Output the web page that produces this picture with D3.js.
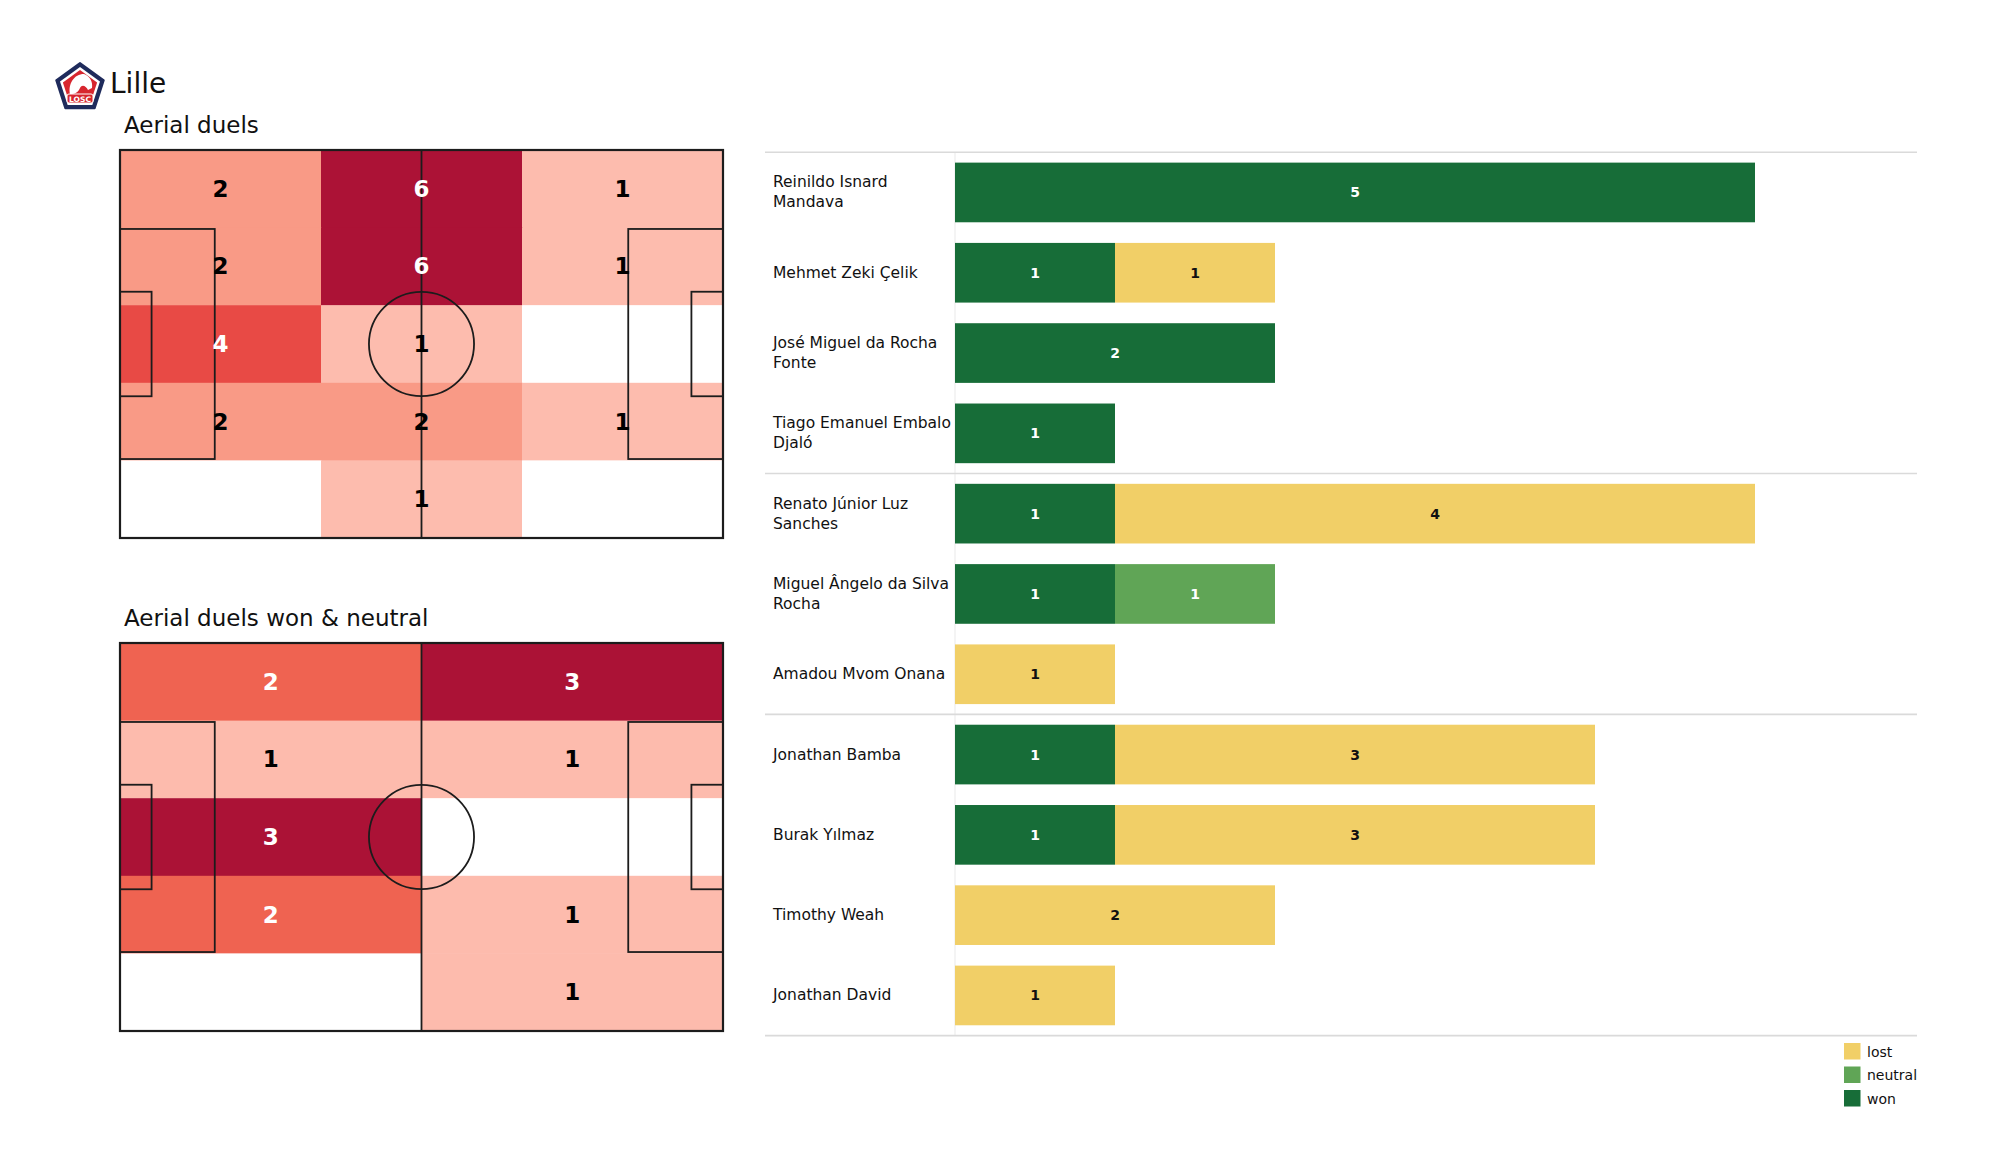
<!DOCTYPE html>
<html>
<head>
<meta charset="utf-8">
<script src="https://cdn.jsdelivr.net/npm/d3@7"></script>
<style>
  html, body { margin: 0; padding: 0; background: #ffffff; }
  svg { display: block; font-family: "DejaVu Sans", sans-serif; }
</style>
</head>
<body>
<svg id="chart" width="2000" height="1175"></svg>
<script>
// ---------------- DATA ----------------
const teamName = "Lille";
const pitchTitles = ["Aerial duels", "Aerial duels won & neutral"];

// Heatmap 1: all aerial duels, 5 rows (top→bottom) × 3 columns (left→right)
const allDuelsGrid = [
  [2, 6, 1],
  [2, 6, 1],
  [4, 1, 0],
  [2, 2, 1],
  [0, 1, 0]
];
// Heatmap 2: won & neutral, 5 rows × 2 columns
const wonNeutralGrid = [
  [2, 3],
  [1, 1],
  [3, 0],
  [2, 1],
  [0, 1]
];

const players = [
  "Reinildo Isnard Mandava",
  "Mehmet Zeki Çelik",
  "José Miguel da Rocha Fonte",
  "Tiago Emanuel Embalo Djaló",
  "Renato Júnior Luz Sanches",
  "Miguel Ângelo da Silva Rocha",
  "Amadou Mvom Onana",
  "Jonathan Bamba",
  "Burak Yılmaz",
  "Timothy Weah",
  "Jonathan David"
];
const wonValues     = [5, 1, 2, 1, 1, 1, 0, 1, 1, 0, 0];
const neutralValues = [0, 0, 0, 0, 0, 1, 0, 0, 0, 0, 0];
const lostValues    = [0, 1, 0, 0, 4, 0, 1, 3, 3, 2, 1];
const groupBreaks = [4, 7]; // separators after these many rows
const outcomeKeys = ["won", "neutral", "lost"];
const legendKeys = ["lost", "neutral", "won"];

// ---------------- STYLE ----------------
const outcomeColors = { won: "#176d38", neutral: "#60a556", lost: "#f1cf67" };
const lineColor = "#1c1c1c";

const svg = d3.select("#chart");
svg.append("rect").attr("width", 2000).attr("height", 1175).attr("fill", "#fff");

// ---------------- LOGO + TITLE ----------------
(function drawLogo() {
  const g = svg.append("g").attr("transform", "translate(80,88)");
  const pent = (r) => d3.range(5).map(i => {
    const a = -Math.PI / 2 + i * 2 * Math.PI / 5;
    return [r * Math.cos(a), r * Math.sin(a)];
  });
  g.append("polygon").attr("points", pent(25).map(p => p.join(",")).join(" "))
    .attr("fill", "#1f2b5c").attr("stroke", "#1f2b5c").attr("stroke-width", 2).attr("stroke-linejoin", "round");
  g.append("polygon").attr("points", pent(21).map(p => p.join(",")).join(" "))
    .attr("fill", "#ffffff");
  g.append("polygon").attr("points", pent(18).map(p => p.join(",")).join(" "))
    .attr("fill", "#d7262e");
  // stylised white head
  g.append("path")
    .attr("d", "M-10,6 C-12,-4 -6,-14 4,-14 C10,-12 13,-6 12,0 L8,2 C6,-2 2,-4 0,0 C-2,4 -4,6 -10,6 Z")
    .attr("fill", "#ffffff");
  g.append("rect").attr("x", -13).attr("y", 6).attr("width", 26).attr("height", 9).attr("rx", 2)
    .attr("fill", "#d7262e").attr("stroke", "#ffffff").attr("stroke-width", 1);
  g.append("text").attr("x", 0).attr("y", 13.5).attr("text-anchor", "middle")
    .attr("font-size", 7.5).attr("font-weight", "bold").attr("fill", "#fff").text("LOSC");
})();

svg.append("text").attr("x", 110).attr("y", 93)
  .attr("font-size", 28).attr("fill", "#111").text(teamName);

// ---------------- PITCHES ----------------
const PL = 105, PW = 68; // pitch dims (uefa)

function drawPitch(top, grid, title, colorDomain, colorRange) {
  const left = 120, right = 723, bottom = top + 388;
  const x = d3.scaleLinear().domain([0, PL]).range([left, right]);
  const y = d3.scaleLinear().domain([0, PW]).range([top, bottom]);
  const nRows = grid.length, nCols = grid[0].length;
  const colBand = d3.scaleBand().domain(d3.range(nCols)).range([left, right]);
  const rowBand = d3.scaleBand().domain(d3.range(nRows)).range([top, bottom]);
  const color = d3.scaleLinear().domain(colorDomain).range(colorRange);

  svg.append("text").attr("x", 124).attr("y", top - 17)
    .attr("font-size", 23).attr("fill", "#111").text(title);

  const g = svg.append("g");
  const cells = [];
  grid.forEach((row, r) => row.forEach((v, c) => cells.push({ r, c, v })));

  g.selectAll("rect.cell").data(cells).join("rect")
    .attr("class", "cell")
    .attr("x", d => colBand(d.c)).attr("y", d => rowBand(d.r))
    .attr("width", colBand.bandwidth() + 0.5).attr("height", rowBand.bandwidth() + 0.5)
    .attr("fill", d => d.v > 0 ? color(d.v) : "#ffffff");

  // pitch lines
  const lines = svg.append("g").attr("fill", "none").attr("stroke", lineColor).attr("stroke-width", 1.8);
  lines.append("rect").attr("x", x(0)).attr("y", y(0)).attr("width", x(PL) - x(0)).attr("height", y(PW) - y(0))
    .attr("stroke-width", 2.2);
  lines.append("line").attr("x1", x(PL / 2)).attr("x2", x(PL / 2)).attr("y1", y(0)).attr("y2", y(PW));
  lines.append("ellipse").attr("cx", x(PL / 2)).attr("cy", y(PW / 2))
    .attr("rx", x(9.15) - x(0)).attr("ry", y(9.15) - y(0));
  const boxes = [
    [0, 16.5, (PW - 40.32) / 2, (PW + 40.32) / 2],
    [PL - 16.5, PL, (PW - 40.32) / 2, (PW + 40.32) / 2],
    [0, 5.5, (PW - 18.32) / 2, (PW + 18.32) / 2],
    [PL - 5.5, PL, (PW - 18.32) / 2, (PW + 18.32) / 2]
  ];
  boxes.forEach(b => {
    lines.append("rect").attr("x", x(b[0])).attr("y", y(b[2]))
      .attr("width", x(b[1]) - x(b[0])).attr("height", y(b[3]) - y(b[2]));
  });

  // numbers
  svg.append("g").selectAll("text").data(cells.filter(d => d.v > 0)).join("text")
    .attr("x", d => colBand(d.c) + colBand.bandwidth() / 2)
    .attr("y", d => rowBand(d.r) + rowBand.bandwidth() / 2)
    .attr("text-anchor", "middle").attr("dominant-baseline", "central")
    .attr("font-size", 23).attr("font-weight", "bold")
    .attr("fill", d => d3.lab(color(d.v)).l < 65 ? "#ffffff" : "#000000")
    .text(d => d.v);
}

drawPitch(150, allDuelsGrid, pitchTitles[0], [1, 2, 4, 6], ["#fdbcae", "#f99a86", "#e84a45", "#ac1236"]);
drawPitch(643, wonNeutralGrid, pitchTitles[1], [1, 2, 3], ["#fdbbad", "#ef6351", "#ab1236"]);

// ---------------- STACKED BARS ----------------
const rows = players.map((p, i) => ({ player: p, won: wonValues[i], neutral: neutralValues[i], lost: lostValues[i] }));
const xB = d3.scaleLinear().domain([0, 5]).range([955, 1755]);
const yB = d3.scaleBand().domain(players).range([152.3, 1035.6]).paddingInner(0.257).paddingOuter(0.1285);
const step = yB.step();
const stack = d3.stack().keys(outcomeKeys)(rows);

const sepG = svg.append("g");
// faint vertical divider between labels and bars
sepG.append("line").attr("x1", 955).attr("x2", 955)
  .attr("y1", yB.range()[0]).attr("y2", yB.range()[1])
  .attr("stroke", "#f0f0f0").attr("stroke-width", 1.5);
const sepYs = [0, ...groupBreaks, players.length].map(k => yB.range()[0] + k * step);
sepG.selectAll("line.sep").data(sepYs).join("line").attr("class", "sep")
  .attr("x1", 765).attr("x2", 1917).attr("y1", d => d).attr("y2", d => d)
  .attr("stroke", "#dadada").attr("stroke-width", 1.6);

const barG = svg.append("g");
stack.forEach(layer => {
  const key = layer.key;
  const segs = layer.map((d, i) => ({ key, x0: d[0], x1: d[1], player: players[i], v: d[1] - d[0] }))
    .filter(d => d.v > 0);
  barG.selectAll(null).data(segs).join("rect")
    .attr("x", d => xB(d.x0)).attr("y", d => yB(d.player))
    .attr("width", d => xB(d.x1) - xB(d.x0)).attr("height", yB.bandwidth())
    .attr("fill", outcomeColors[key]);
  barG.selectAll(null).data(segs).join("text")
    .attr("x", d => (xB(d.x0) + xB(d.x1)) / 2)
    .attr("y", d => yB(d.player) + yB.bandwidth() / 2)
    .attr("text-anchor", "middle").attr("dominant-baseline", "central")
    .attr("font-size", 14).attr("font-weight", "bold")
    .attr("fill", key === "lost" ? "#111" : "#ffffff")
    .text(d => d.v);
});

// player labels (wrapped at 22 characters)
function wrap(s, w) {
  const words = s.split(" "); const out = []; let cur = "";
  words.forEach(wd => {
    const t = cur ? cur + " " + wd : wd;
    if (t.length > w && cur) { out.push(cur); cur = wd; } else cur = t;
  });
  if (cur) out.push(cur);
  return out;
}
const labG = svg.append("g");
players.forEach(p => {
  const ls = wrap(p, 22);
  const cy = yB(p) + yB.bandwidth() / 2;
  const lh = 20;
  const t = labG.append("text").attr("x", 773).attr("font-size", 15.5).attr("fill", "#111");
  ls.forEach((l, i) => {
    t.append("tspan").attr("x", 773)
      .attr("y", cy + (i - (ls.length - 1) / 2) * lh)
      .attr("dominant-baseline", "central").text(l);
  });
});

// legend
const legG = svg.append("g");
legendKeys.forEach((k, i) => {
  const yy = 1043 + i * 23.5;
  legG.append("rect").attr("x", 1844).attr("y", yy).attr("width", 16.5).attr("height", 16.5)
    .attr("fill", outcomeColors[k]);
  legG.append("text").attr("x", 1867).attr("y", yy + 8.5).attr("dominant-baseline", "central")
    .attr("font-size", 14).attr("fill", "#111").text(k);
});
</script>
</body>
</html>
